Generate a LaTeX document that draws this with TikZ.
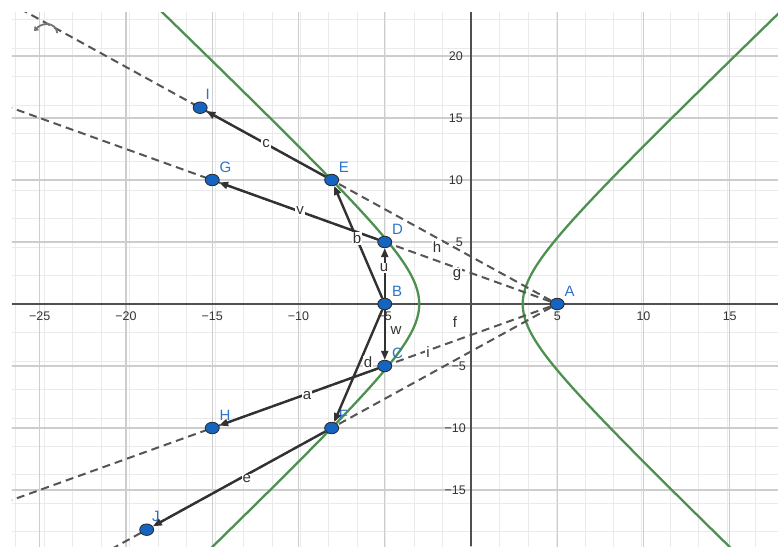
\documentclass[tikz,border=0pt]{standalone}
\usepackage{fontspec}
\setmainfont{Liberation Sans}
\usetikzlibrary{arrows.meta, calc, shapes.geometric}
\pgfdeclarelayer{background}
\pgfsetlayers{background,main}
\definecolor{ptblue}{RGB}{21,101,192}
\definecolor{lblblue}{RGB}{45,115,205}
\definecolor{curvegreen}{RGB}{76,145,80}
\definecolor{vecgray}{RGB}{50,50,50}
\definecolor{raygray}{RGB}{85,85,85}
\definecolor{gridminor}{RGB}{234,234,234}
\definecolor{gridmajor}{RGB}{205,205,205}
\definecolor{axisgray}{RGB}{80,80,80}

\begin{document}
\begin{tikzpicture}[x=17.25pt, y=12.4pt,
    pt/.style={ellipse, draw=black!85, fill=ptblue, line width=0.8pt, minimum width=14pt, minimum height=11.5pt, inner sep=0pt},
    ptlbl/.style={text=lblblue, font=\fontsize{15}{15}\selectfont, inner sep=1pt, label distance=2pt},
    vec/.style={vecgray, line width=2.4pt, -{Triangle[length=9pt,width=7pt]}},
    ray/.style={raygray, line width=2pt, dash pattern=on 8pt off 5pt},
    vlbl/.style={text=black!80, fill=white, inner sep=1pt, font=\fontsize{15}{15}\selectfont},
    tick/.style={text=black!80, font=\fontsize{12.5}{12.5}\selectfont, inner sep=0pt},
    curve/.style={curvegreen, line width=2.3pt}]
    \useasboundingbox (-27.304,-19.516) rectangle (17.797,24.516);

    % Punti
    \node[pt, label={[ptlbl]45:A}] (A) at (5,0) {};
    \node[pt, label={[ptlbl]45:B}] (B) at (-5,0) {};
    \node[pt, label={[ptlbl]45:C}] (C) at (-5,-5) {};
    \node[pt, label={[ptlbl]45:D}] (D) at (-5,5) {};
    \node[pt, label={[ptlbl]45:E}] (E) at (-8.0777,10) {};
    \node[pt, label={[ptlbl]45:F}] (F) at (-8.0777,-10) {};
    \node[pt, label={[ptlbl]45:G}] (G) at (-15,10) {};
    \node[pt, label={[ptlbl]45:H}] (H) at (-15,-10) {};
    \node[pt, label={[ptlbl]60:I}] (I) at (-15.7,15.83) {};
    \node[pt, label={[ptlbl]60:J}] (J) at (-18.8,-18.2) {};

    \begin{pgfonlayer}{background}
        \begin{scope}
            \clip (-26.61,-19.516) rectangle (17.797,23.548);
            % Griglia e assi
            \draw[gridminor, line width=0.6pt] (-27,-20) grid (18,24);
            \draw[gridmajor, line width=1.1pt, step=5] (-27,-20) grid (18,24);
            \draw[axisgray, line width=1.3pt] (-26.61,0) -- (17.797,0);
            \draw[axisgray, line width=1.3pt] (0,-19.516) -- (0,23.548);
            % Iperbole
            \draw[curve] plot[domain=-2.4:2.55, samples=90] ({3*cosh(\x)},{4*sinh(\x)});
            \draw[curve] plot[domain=-2.4:2.55, samples=90] ({-3*cosh(\x)},{4*sinh(\x)});
            % Raggi dal fuoco
            \draw[ray] (A) -- ($(A)!3!(E)$);
            \draw[ray] (A) -- ($(A)!4!(D)$);
            \draw[ray] (A) -- ($(A)!4!(C)$);
            \draw[ray] (A) -- ($(A)!3!(F)$);
        \end{scope}
        % Etichette assi
        \foreach \v in {-25,-20,-15,-10,-5}
            \node[tick, anchor=north] (tx\v) at (\v,0) [yshift=-8pt] {−\the\numexpr-\v\relax};
        \foreach \v in {5,10,15}
            \node[tick, anchor=north] (tx\v) at (\v,0) [yshift=-8pt] {\v};
        \foreach \v in {5,10,15,20}
            \node[tick, anchor=east] (ty\v) at (0,\v) [xshift=-8pt] {\v};
        \foreach \v in {-5,-10,-15}
            \node[tick, anchor=east] (ty\v) at (0,\v) [xshift=-5pt] {−\the\numexpr-\v\relax};
    \end{pgfonlayer}

    % Vettori
    \draw[vec] (B) -- (D);
    \draw[vec] (B) -- (C);
    \draw[vec] (B) -- (E);
    \draw[vec] (B) -- (F);
    \draw[vec] (D) -- (G);
    \draw[vec] (E) -- (I);
    \draw[vec] (C) -- (H);
    \draw[vec] (F) -- (J);

    % Nomi di vettori e rette
    \node[vlbl] (lu) at (-5.04,2.9) {u};
    \node[vlbl] (lw) at (-4.35,-2.1) {w};
    \node[vlbl] (lb) at (-6.6,5.3) {b};
    \node[vlbl] (ld) at (-5.97,-4.68) {d};
    \node[vlbl] (lv) at (-9.91,7.5) {v};
    \node[vlbl] (lc) at (-11.88,12.98) {c};
    \node[vlbl] (la) at (-9.5,-7.42) {a};
    \node[vlbl] (le) at (-12.99,-14.1) {e};
    \node[vlbl] (lh) at (-1.97,4.6) {h};
    \node[vlbl] (lg) at (-0.81,2.34) {g};
    \node[vlbl] (li) at (-2.49,-3.87) {i};
    \node[vlbl] (lf) at (-0.93,-1.45) {f};

    % Icona in alto
    \draw[black!55, line width=1.8pt, -{Triangle[length=4pt,width=6pt]}]
        (-23.99,21.85) to[out=90, in=0] (-24.58,22.58) to[out=180, in=45] (-25.33,22.02);
\end{tikzpicture}
\end{document}
